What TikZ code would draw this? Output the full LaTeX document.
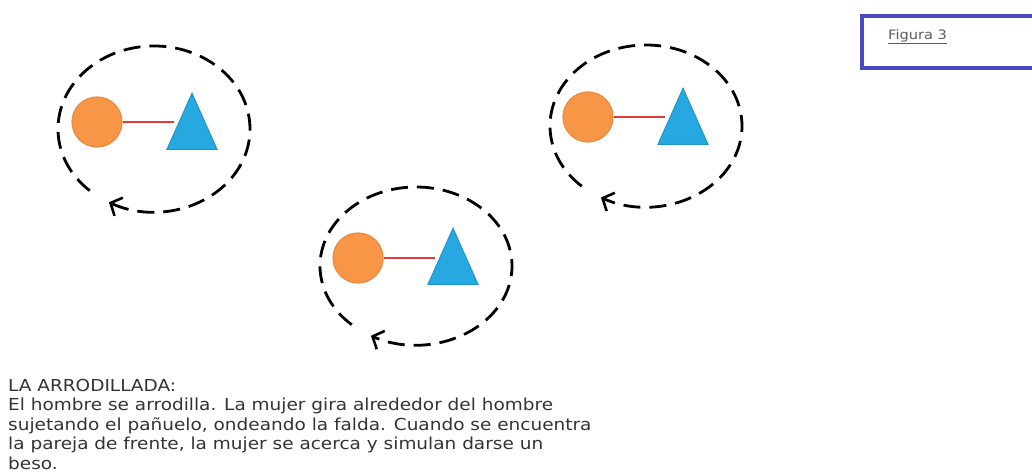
\documentclass[tikz,border=0pt]{standalone}
\usepackage{fontspec}
\setmainfont{DejaVu Sans}
\newfontfamily\descfont[FakeStretch=1.12]{DejaVu Sans}
\usetikzlibrary{shapes.geometric,arrows.meta,calc}
\definecolor{orng}{HTML}{F79646}
\definecolor{orngd}{HTML}{EC8A3F}
\definecolor{blu}{HTML}{27A8E0}
\definecolor{blud}{HTML}{1E96CC}
\definecolor{redl}{HTML}{E23B3B}
\definecolor{boxb}{HTML}{4848C4}
\definecolor{txt}{HTML}{333333}
\tikzset{
  woman/.style={circle, fill=orng, draw=orngd, line width=1.2, minimum size=50, inner sep=0},
  man/.style={isosceles triangle, isosceles triangle stretches, shape border rotate=90,
     minimum width=50, minimum height=56, inner sep=0, fill=blu, draw=blud, line width=1, anchor=apex},
  link/.style={draw=redl, line width=1.6},
  ring/.style={draw=black, line width=2.8, dash pattern=on 17 off 9,
     -{Straight Barb[length=9,width=20,line width=2.6]}},
}
\begin{document}
\begin{tikzpicture}[x=1pt,y=-1pt]
\clip (0,0) rectangle (1032,473);
\fill[white] (0,0) rectangle (1032,473);
% group 1
\coordinate (e1) at (154,129);
\node[woman] (o1) at (97,122) {};
\node[man] (t1) at (192,92) {};
\draw[link] (o1.east) -- (o1.east -| t1.west);
\draw[ring] ($(e1)+(132:96 and 83)$) arc[start angle=132, end angle=478, x radius=96, y radius=83];
% group 2
\coordinate (e2) at (646,126);
\node[woman] (o2) at (588,117) {};
\node[man] (t2) at (683,87) {};
\draw[link] (o2.east) -- (o2.east -| t2.west);
\draw[ring] ($(e2)+(132:96 and 81)$) arc[start angle=132, end angle=478, x radius=96, y radius=81];
% group 3
\coordinate (e3) at (416,266);
\node[woman] (o3) at (358,258) {};
\node[man] (t3) at (453,227) {};
\draw[link] (o3.east) -- (o3.east -| t3.west);
\draw[ring] ($(e3)+(132:96 and 79)$) arc[start angle=132, end angle=478, x radius=96, y radius=79];
% figure label box
\node[draw=boxb, line width=4, minimum width=200, minimum height=52, anchor=north west, inner sep=0] (fig) at (860,14) {};
\node[anchor=west, text=txt!80, font=\descfont\fontsize{13}{15}\selectfont, inner sep=0] (figl) at (888,37) {\underline{Figura 3}};
% description
\node[anchor=north west, align=left, text=txt, inner sep=0,
  font=\descfont\fontsize{16.5}{19.4}\selectfont] (desc) at (8,379)
  {LA ARRODILLADA:\\
   El hombre se arrodilla. La mujer gira alrededor del hombre\\
   sujetando el pañuelo, ondeando la falda. Cuando se encuentra\\
   la pareja de frente, la mujer se acerca y simulan darse un\\
   beso.};
\end{tikzpicture}
\end{document}
